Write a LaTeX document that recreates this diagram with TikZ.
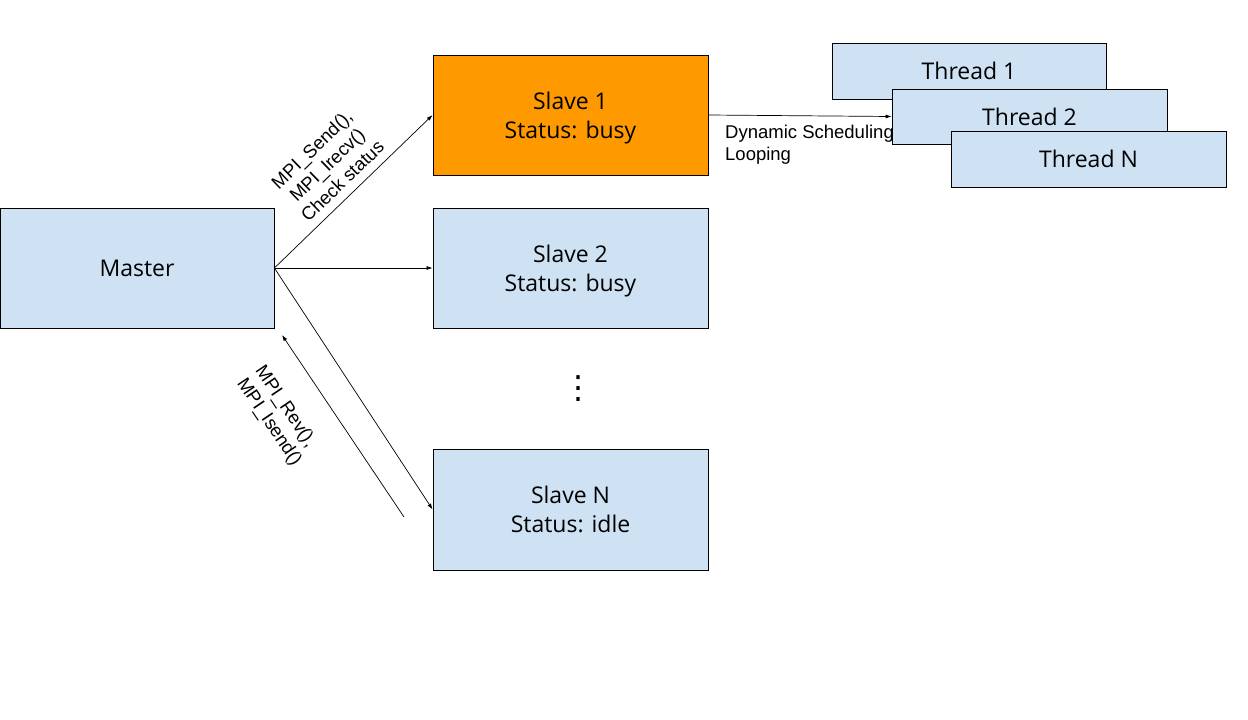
\documentclass[tikz,border=0pt]{standalone}
\usepackage{fontspec}
\setmainfont{Open Sans}
\newfontfamily\arial{Liberation Sans}
\newfontfamily\dejavu{DejaVu Sans}
\usetikzlibrary{arrows.meta}
\definecolor{lblue}{HTML}{CFE2F3}
\definecolor{orng}{HTML}{FF9900}
\newcommand\lowline[1]{\raisebox{-8.5pt}[0pt][0pt]{#1}}
\begin{document}
\begin{tikzpicture}[x=1pt,y=-1pt,
  box/.style={draw=black,line width=0.8pt,fill=lblue,inner sep=0pt,align=center,font=\fontsize{23}{29}\selectfont},
  conn/.style={line width=0.7pt,-{Latex[length=6pt,width=4pt]}},
  lbl/.style={font=\arial\fontsize{18.5}{22}\selectfont,inner sep=0pt}]
\useasboundingbox (0,0) rectangle (1248,720);
\node[box,minimum width=274pt,minimum height=120pt] (master) at (137,268) {\raisebox{-2pt}{Master}};
\node[box,fill=orng,minimum width=275pt,minimum height=120pt] (s1) at (570.5,115) {\lowline{Slave 1}\\\lowline{Status: busy}};
\node[box,minimum width=275pt,minimum height=120pt] (s2) at (570.5,268) {\lowline{Slave 2}\\\lowline{Status: busy}};
\node[box,minimum width=275pt,minimum height=121pt] (sn) at (570.5,509.5) {\lowline{Slave N}\\\lowline{Status: idle}};
\node[font=\dejavu\fontsize{32}{32}\selectfont,inner sep=0pt] (dots) at (578,389) {⋮};
\node[box,minimum width=274pt,minimum height=56pt] (t1) at (969,71) {\raisebox{-4pt}{Thread 1}};
\node[box,minimum width=275pt,minimum height=55pt] (t2) at (1029.5,116.5) {\raisebox{-2pt}{Thread 2}};
\node[box,minimum width=275pt,minimum height=56pt] (tn) at (1088.5,159) {\raisebox{-2pt}{Thread N}};
\coordinate (ret1) at (404,517);
\coordinate (ret2) at (282,335);
\draw[conn] (master.east) -- (s1.west);
\draw[conn] (master.east) -- (s2.west);
\draw[conn] (master.east) -- (sn.west);
\draw[conn] (ret1) -- (ret2);
\draw[conn] (s1.east) -- (t2.west);
\node[lbl,align=center,rotate=44] (l1) at (327,165) {MPI\_Send(),\\MPI\_Irecv()\\Check status};
\node[lbl,align=left,rotate=-56] (l2) at (278,416) {MPI\_Rev(),\\MPI\_Isend()};
\node[lbl,align=left,anchor=north west] (l3) at (725,125) {Dynamic Scheduling\\Looping};
\end{tikzpicture}
\end{document}
